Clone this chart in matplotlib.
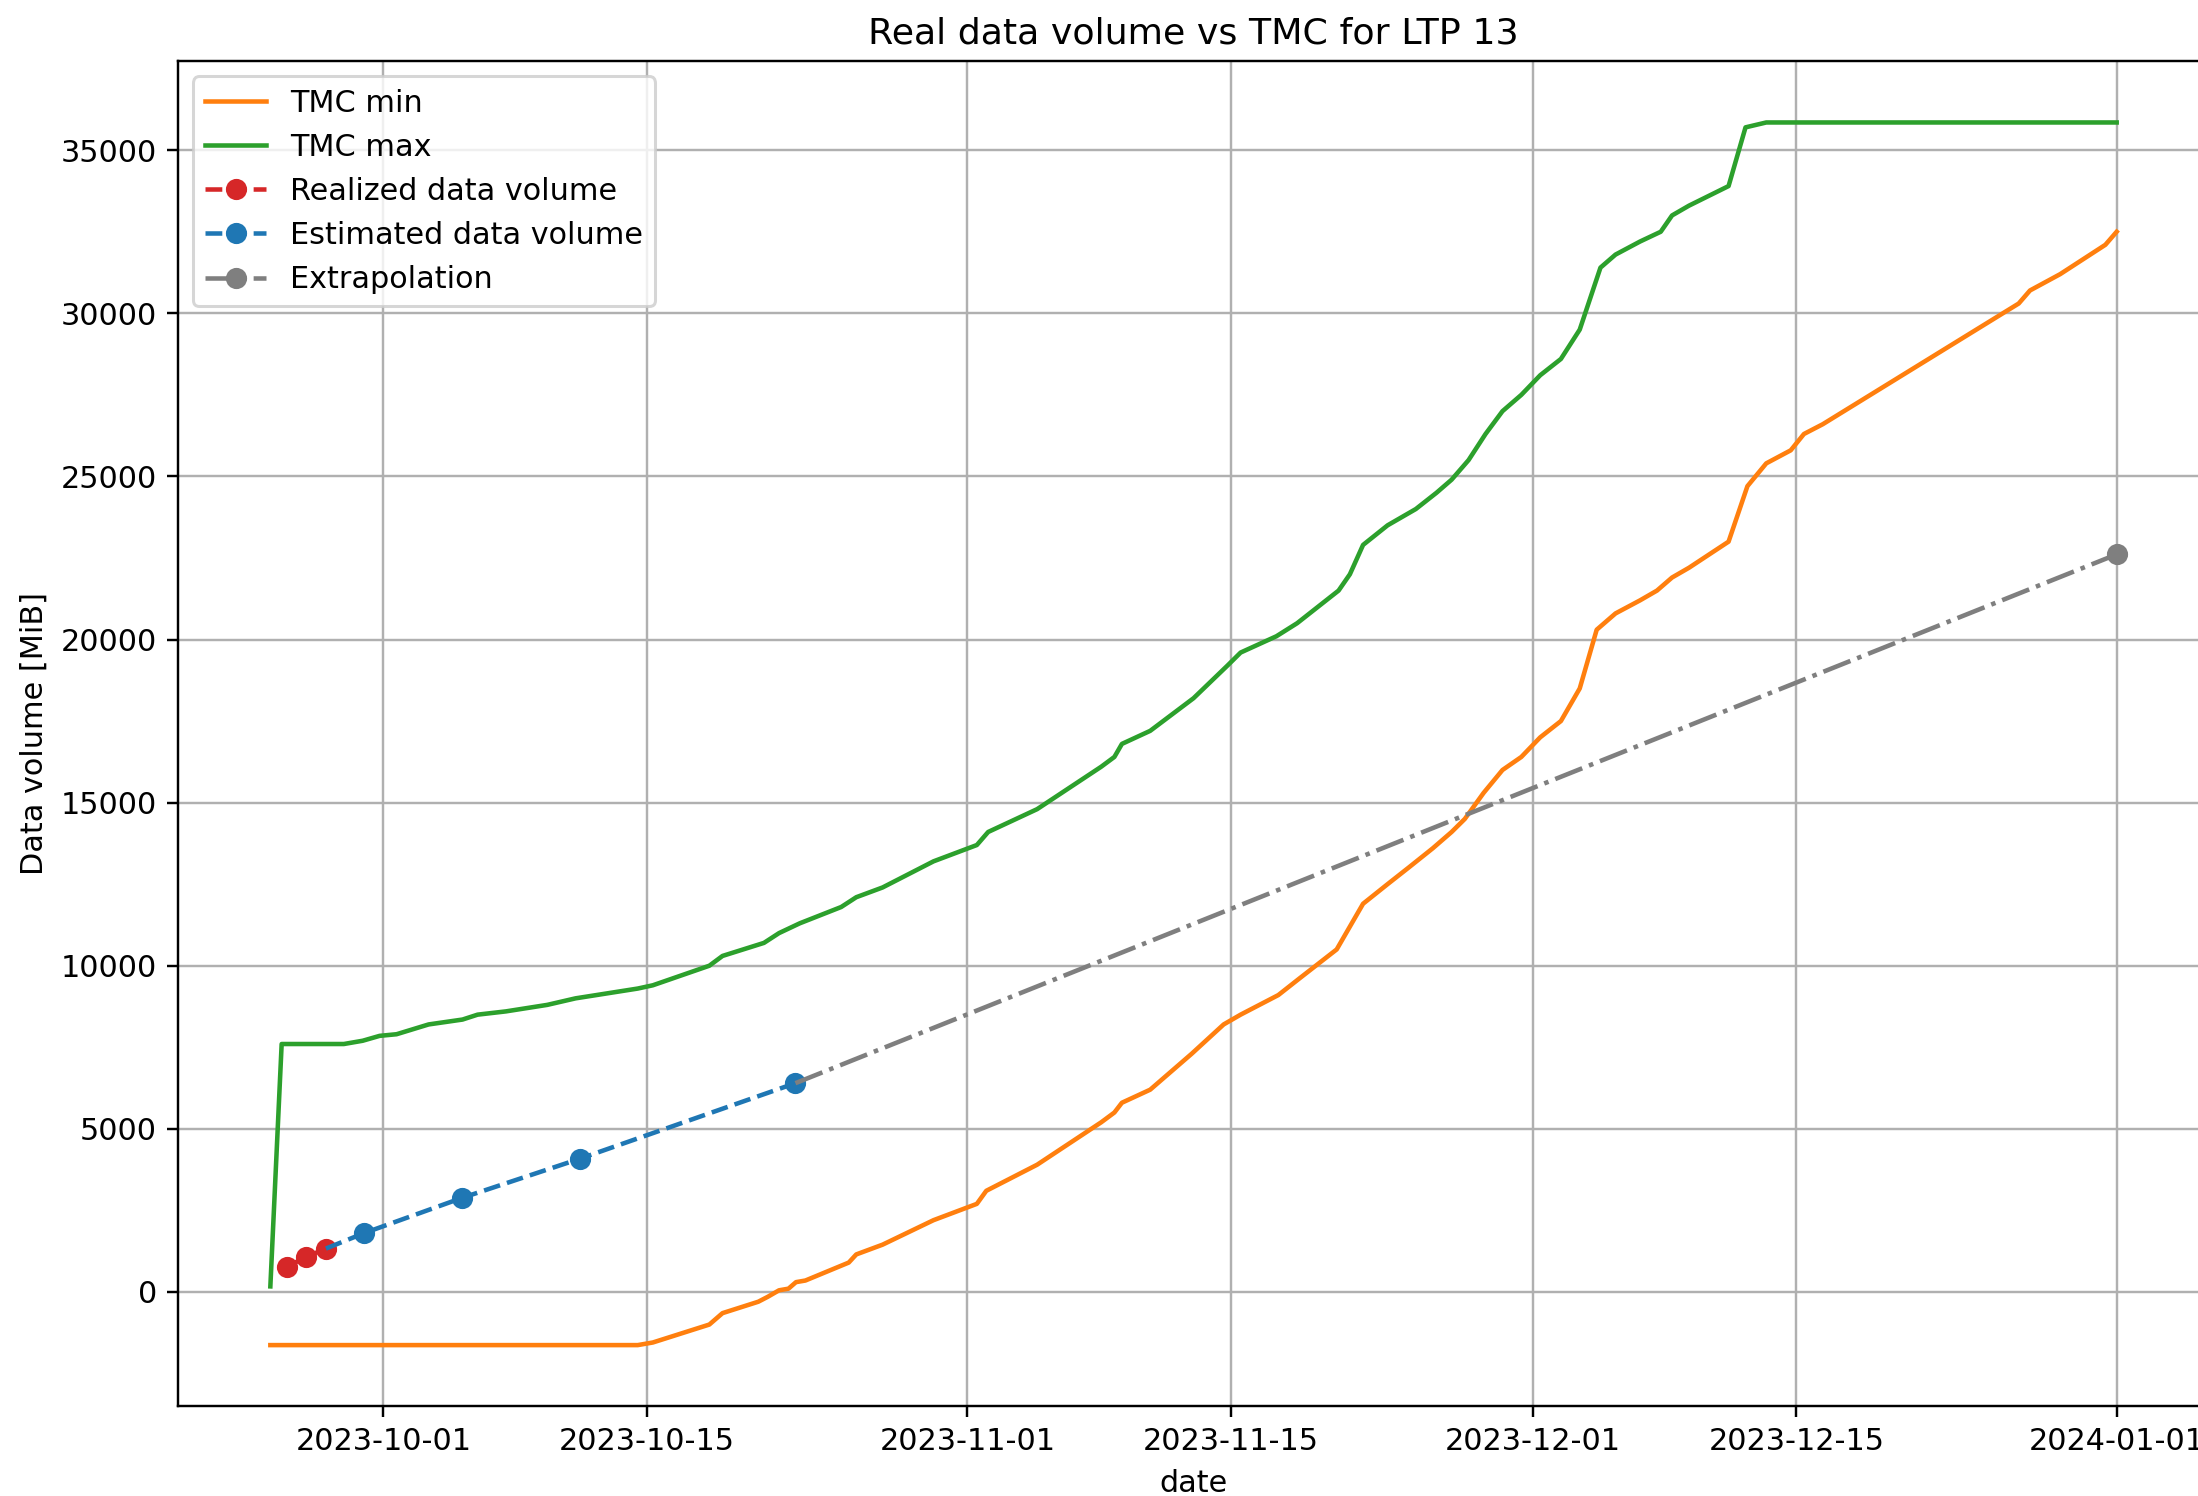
import pandas as pd
import matplotlib
matplotlib.use('Agg')
import matplotlib.pyplot as plt

# day offsets from 2023-10-01 and values (MiB)

start = pd.Timestamp('2023-10-01')

tmc_max_days = [-6.0, -5.4, -2.1, -1.1, -0.2, 0.7, 2.4, 4.2, 5.0, 6.5, 8.7, 10.2, 11.3, 13.5, 14.3,
                17.3, 18.0, 20.2, 21.0, 22.1, 24.3, 25.1, 26.5, 29.2, 31.5, 32.1, 34.7, 38.1, 38.8,
                39.2, 40.7, 43.0, 44.8, 45.5, 47.4, 48.5, 50.7, 51.3, 52.0, 53.3, 54.8, 55.9, 56.7,
                57.6, 58.5, 59.4, 60.4, 61.4, 62.5, 63.5, 64.6, 65.4, 66.7, 67.8, 68.4, 69.3, 71.4,
                72.3, 73.4, 92.0]
tmc_max = [170, 7600, 7600, 7700, 7850, 7900, 8200, 8350, 8500, 8600, 8800, 9000, 9100, 9300, 9400,
           10000, 10300, 10700, 11000, 11300, 11800, 12100, 12400, 13200, 13700, 14100, 14800, 16100, 16400,
           16800, 17200, 18200, 19200, 19600, 20100, 20500, 21500, 22000, 22900, 23500, 24000, 24500, 24900,
           25500, 26300, 27000, 27500, 28100, 28600, 29500, 31400, 31800, 32200, 32500, 33000, 33300, 33900,
           35700, 35850, 35850]

tmc_min_days = [-6.0, 13.5, 14.3, 17.3, 18.0, 19.9, 20.4, 21.0, 21.5, 21.9, 22.4, 24.7, 25.1, 26.5,
                29.2, 31.5, 32.0, 34.7, 38.1, 38.8, 39.2, 40.7, 42.9, 44.6, 45.5, 47.5, 48.6, 50.6, 51.3,
                52.0, 53.3, 54.4, 55.7, 56.7, 57.4, 58.4, 59.4, 60.4, 61.4, 62.5, 63.5, 64.4, 65.4, 66.7,
                67.6, 68.4, 69.3, 71.4, 72.4, 73.4, 74.7, 75.4, 76.4, 86.8, 87.4, 89.0, 91.4, 92.0]
tmc_min = [-1630, -1630, -1550, -1000, -650, -300, -150, 50, 100, 300, 350, 900, 1150, 1450,
           2200, 2700, 3100, 3900, 5200, 5500, 5800, 6200, 7300, 8200, 8500, 9100, 9600, 10500, 11200,
           11900, 12500, 13000, 13600, 14100, 14500, 15300, 16000, 16400, 17000, 17500, 18500, 20300, 20800, 21200,
           21500, 21900, 22200, 23000, 24700, 25400, 25800, 26300, 26600, 30300, 30700, 31200, 32100, 32500]

realized_days = [-5.13, -4.09, -3.05]
realized = [770, 1075, 1330]

estimated_days = [-3.05, -1.04, 4.16, 10.41, 21.87]
estimated = [1330, 1800, 2880, 4080, 6400]

extrap_days = [21.87, 92.0]
extrap = [6400, 22610]


def to_dates(days):
    return start + pd.to_timedelta(days, unit='D')


dpi = 218
fig = plt.figure(figsize=(2198 / dpi, 1496 / dpi), dpi=dpi)
ax = fig.add_axes([0.081, 0.060, 0.924, 0.899])

ax.plot(to_dates(tmc_min_days), tmc_min, color='C1', label='TMC min')
ax.plot(to_dates(tmc_max_days), tmc_max, color='C2', label='TMC max')
ax.plot(to_dates(realized_days), realized, 'o--', color='C3', label='Realized data volume')
ax.plot(to_dates(estimated_days), estimated, 'o--', color='C0', markevery=slice(1, None),
        label='Estimated data volume')
ax.plot(to_dates(extrap_days), extrap, 'o-.', color='C7', markevery=[1], label='Extrapolation')

ax.set_title('Real data volume vs TMC for LTP 13')
ax.set_xlabel('date')
ax.set_ylabel('Data volume [MiB]')
ax.grid(True)
ax.legend(loc='upper left')

plt.savefig('out.png', dpi=dpi)
plt.close()
